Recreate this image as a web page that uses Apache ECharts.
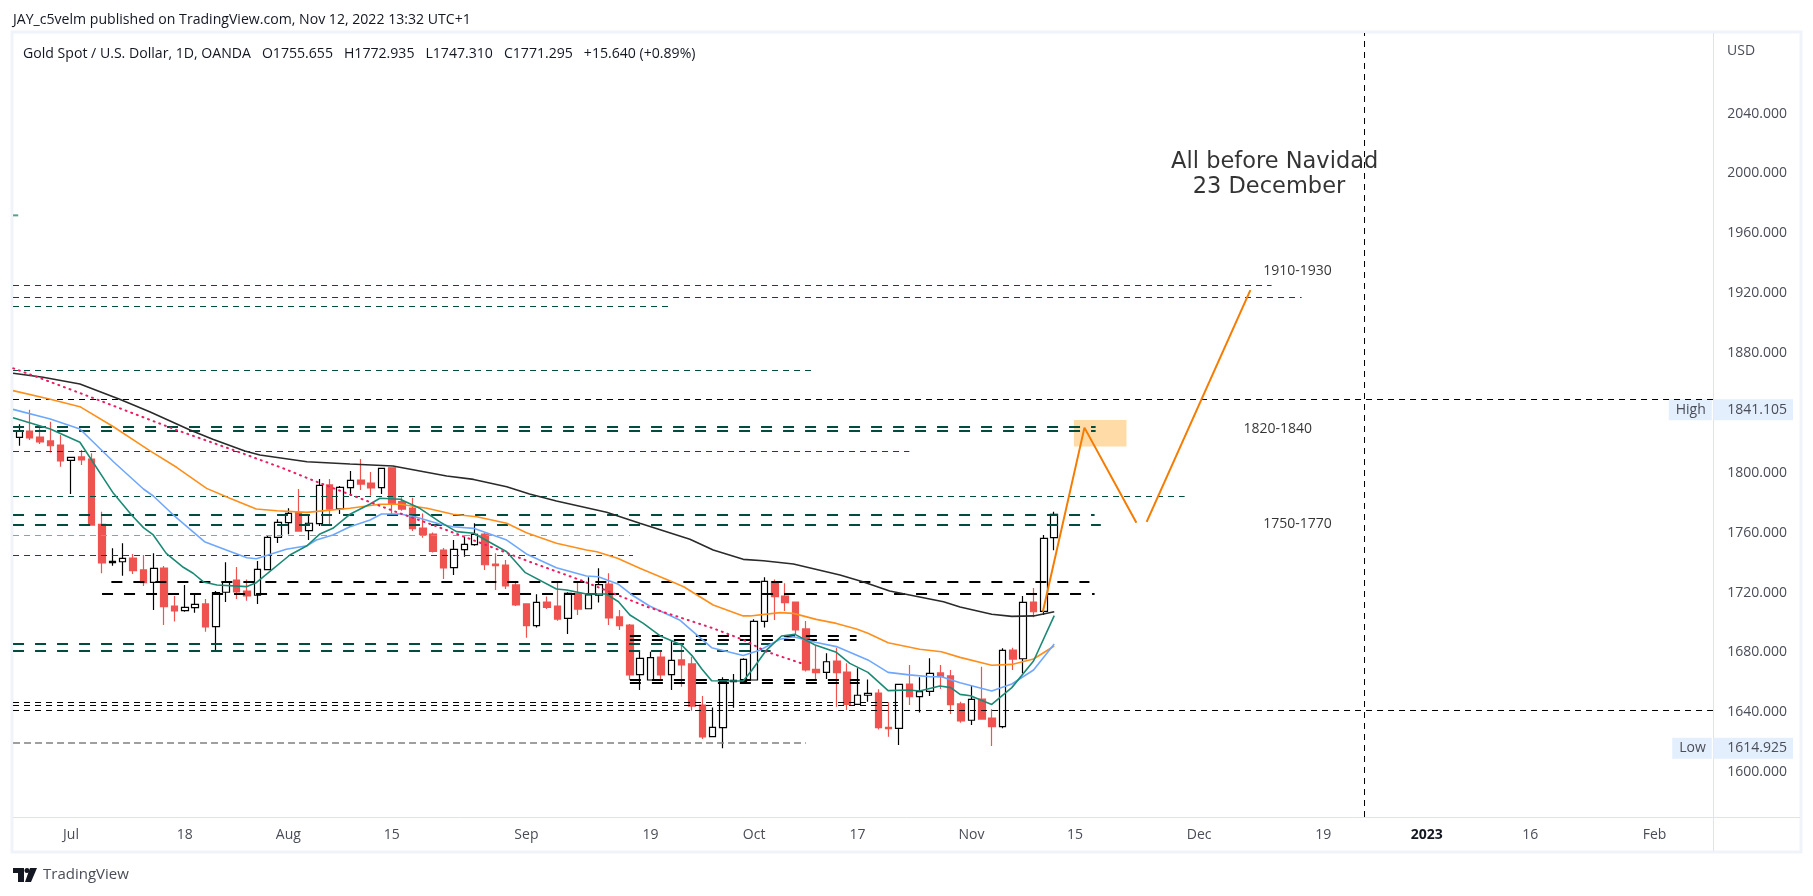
<!DOCTYPE html>
<html><head><meta charset="utf-8">
<style>html,body{margin:0;padding:0;background:#fff}#c{width:1813px;height:896px}</style>
<script src="https://cdn.jsdelivr.net/npm/echarts@6/dist/echarts.min.js"></script>
</head><body><div id="c"></div>
<script>
// Candles: bar 0 = 24 Jun 2022 … bar 100 = 11 Nov 2022 (trading-day slots)
const opens=[1822.7,1826.9,1822.9,1820.3,1817.6,1807.3,1809.6,1808.2,1764.6,1739,1739.6,1742.1,1734.1,1725.8,1735.4,1710,1706.9,1708.9,1711.4,1696.2,1719.2,1727.4,1720,1717.2,1734.3,1755.9,1765.7,1772.4,1760.4,1765,1790.9,1775,1789.1,1794.2,1792.2,1789.1,1802.4,1779.7,1775.5,1762.1,1758.1,1747.4,1735.6,1747.7,1751,1758.1,1738.1,1737.4,1724.1,1711.4,1696.9,1712.7,1710,1701.8,1718.5,1708.2,1717.2,1724.7,1702.7,1697.3,1664.2,1660.6,1675.9,1664.2,1674,1671.3,1643.9,1622.7,1628.8,1659.5,1659.5,1660.6,1699.8,1726.3,1716.7,1712.7,1694.7,1667.7,1665.7,1673.3,1665.9,1644.3,1650.4,1651.9,1629,1628.3,1657.9,1649.5,1653,1665.3,1663.3,1644.6,1633.7,1647.9,1635.2,1629.4,1680.6,1674.8,1712.7,1706.5,1755.655];
const closes=[1826.9,1822.3,1819.6,1817.1,1806.9,1809.3,1807.6,1764.1,1738.8,1739.9,1741.9,1733.6,1725.6,1735.2,1709.6,1706.7,1709.1,1711.1,1696,1718.9,1726.3,1719.4,1716.7,1734.5,1755.9,1765.9,1771.9,1760.1,1765.3,1790.6,1774.8,1789.3,1794,1791.5,1788.9,1802,1778.2,1774.8,1761.7,1757.7,1746.5,1735.4,1747.9,1751.2,1757.9,1737.6,1737,1723.4,1710.7,1696.9,1712.5,1709.1,1701.3,1718.5,1708,1717.4,1724.3,1702,1696.9,1664,1675.1,1675.5,1664,1673.7,1670.6,1643.2,1622.5,1629,1659.5,1660.4,1674.4,1699.8,1726.5,1716.3,1712.3,1694,1667.3,1665.5,1672.8,1665.5,1644.3,1650.4,1651.7,1628.8,1628.1,1657.7,1649.5,1652.8,1665,1662.8,1644.1,1633.2,1647.7,1634.5,1629.4,1680.4,1674.6,1712.5,1706.2,1755.2,1771.295];
const lows=[1817.1,1820.9,1818.2,1812.5,1803.1,1784.8,1804.2,1764.1,1731.9,1737,1730.3,1731.4,1723.4,1707.4,1697.3,1699.6,1706.2,1705.6,1692.9,1680.2,1712.7,1714.7,1713.6,1711.4,1734.1,1752.1,1757.9,1760.1,1754.1,1763.5,1764.6,1771.5,1783.7,1787.5,1783.7,1784.8,1771.5,1773.7,1760.1,1755.7,1745.7,1728.1,1730.7,1743,1750.3,1734.1,1720.7,1721.4,1710,1688.9,1695.6,1708,1700.2,1691.3,1704,1708.2,1712.3,1697.3,1694,1660.6,1653.9,1660.6,1660.6,1653.9,1656.1,1640.1,1621.2,1622.7,1614.925,1642.1,1657.9,1660.6,1695.6,1700.7,1706.7,1691.3,1666.2,1661.3,1661.3,1642.8,1640.6,1643.9,1646.1,1627.6,1622.7,1617.2,1643.9,1638.8,1649.9,1654.6,1637.9,1632.1,1630.5,1634.5,1616.5,1628.3,1667.3,1665,1702.5,1704,1747.31];
const highs=[1831.4,1841.1,1829.8,1833.2,1824.3,1809.3,1814.2,1812,1773,1748.6,1751.9,1744.8,1744.1,1745.2,1736.7,1716.7,1724.1,1717.8,1714.7,1720,1739.2,1736.1,1727.8,1740.1,1756.8,1767.9,1775.3,1788.2,1770.8,1794.9,1794.9,1790.2,1800.2,1808.2,1799.5,1802.4,1802.4,1782.6,1782.4,1771.9,1759.2,1748.8,1754.1,1756.3,1765.3,1759,1745.2,1740.8,1725.6,1711.4,1717.8,1716.3,1725.6,1719.2,1726.3,1729.2,1735.2,1731.9,1707.4,1698,1680.6,1679.5,1679.5,1687.3,1685.1,1676.2,1649.9,1642.3,1662.4,1664.6,1675.1,1701.1,1729.2,1727.8,1725.2,1712.7,1700,1683.3,1678.4,1682.2,1671.7,1668.4,1661,1654.4,1645.7,1657.7,1670.6,1662.4,1675.1,1670.6,1667.3,1646.1,1656.8,1669.5,1641,1681.8,1682.2,1716.7,1722,1757.5,1772.935];

// Moving averages as [bar, price]
const maBlack=[[-0.6,1865.5],[2.3,1862.8],[5.86,1858.3],[9.7,1848.1],[12.6,1839.8],[16.5,1827.6],[18.7,1821.4],[21.8,1813.6],[23.25,1810.9],[27.8,1806.4],[31.95,1804.9],[36.1,1803.6],[41.3,1796.9],[43.9,1794.6],[47.1,1789.7],[49.3,1784.8],[51.9,1780.2],[56.75,1772.6],[59.96,1765.3],[64.8,1754.6],[67.05,1747.4],[69.95,1741.2],[71.9,1740.3],[74.8,1738.1],[79.3,1730.7],[81.5,1726.3],[84.1,1720.1],[89.3,1712.9],[90.9,1709.4],[93.96,1704.5],[95.9,1703.1],[98,1703.4],[100,1706.2]];
const maOrange=[[-0.6,1853.9],[3,1848.1],[5.86,1843.2],[9.1,1829.8],[12.6,1813.8],[15.2,1802.7],[18.1,1788.6],[20.35,1782],[22.9,1774.8],[24.9,1773.7],[27.8,1772.6],[31.95,1775.3],[34.85,1778],[36.8,1778],[39.4,1775.3],[41.9,1771.3],[44.2,1769.7],[47.1,1765.3],[49,1759],[51.9,1751.9],[54.8,1747.4],[55.8,1746.3],[57.8,1741.9],[59.96,1735.2],[62.9,1726.7],[64.2,1722.9],[67.05,1710.7],[69.95,1703.4],[70.6,1703.4],[73.5,1705.6],[74.8,1705.1],[77,1701.1],[78.95,1698.4],[80.9,1694.7],[82,1691.8],[83.95,1685.5],[87,1681.1],[89.1,1679.5],[90.9,1675.7],[93.96,1670.4],[95.9,1671],[98,1674.6],[100,1683.3]];
const maBlue=[[-0.6,1841.4],[3,1835],[5.86,1828.3],[9.1,1806.4],[12,1788.2],[12.95,1783.5],[14.9,1770.8],[17.9,1753],[20,1747.4],[22,1742.3],[22.9,1741.6],[25.8,1747.9],[27.8,1750.3],[28.7,1754.1],[30.3,1757.5],[31.95,1763],[33.9,1767.5],[35,1771.5],[36.8,1771.5],[38.4,1769.3],[40.6,1764.8],[41.9,1763],[43.9,1761.9],[47.1,1754.1],[49,1744.8],[51.9,1735.6],[54.8,1730.1],[55.95,1729.6],[57.9,1724.5],[59.2,1717.4],[60.9,1710],[63.8,1700.7],[65.1,1692.9],[66.9,1682.2],[69.95,1676.9],[71.6,1680.6],[73.5,1687.8],[74.8,1689.5],[76.9,1685.8],[78.95,1682.9],[82,1674],[83.95,1665.7],[86,1664],[88,1662.8],[89.1,1662.8],[90.9,1658.8],[93.96,1653.2],[95.9,1657.9],[98,1667.3],[100,1684.6]];
const maTeal=[[-0.6,1835.8],[3,1828.3],[5.86,1819.4],[9.1,1785.3],[10.85,1770.8],[12,1762.4],[12.95,1757.5],[14.2,1745.2],[15.85,1735.9],[16.8,1731.9],[17.8,1726.1],[19.1,1724.1],[22,1723],[22.9,1725.6],[26.15,1744.1],[27.8,1750.3],[29,1757.9],[30.3,1761.9],[31.95,1771.3],[33.9,1778.2],[34.85,1782],[36.8,1781.3],[38.7,1775.3],[40.6,1766.4],[42.25,1759.7],[43.9,1758.6],[47.1,1746.3],[48.9,1732.3],[51.9,1721.4],[52.9,1720.7],[54.8,1718],[56.75,1718],[57.9,1712.9],[59,1704],[60.3,1698.4],[61.9,1690.2],[64,1684],[65,1676.9],[65.95,1668],[66.9,1660.1],[69.95,1659.9],[70.8,1667.3],[72.2,1680.6],[73.65,1690],[74.95,1691.1],[76.9,1684],[78.95,1679.1],[80.25,1671.7],[82,1665.7],[83.95,1653.5],[86,1653.9],[87,1653.2],[88.95,1656.6],[90,1655.5],[90.9,1651],[91.9,1650.1],[93.96,1644.3],[95.9,1655.5],[98,1673.3],[100,1703.6]];
const dottedTrend=[[-0.58,1868.8],[2.16,1861.9],[4.9,1854.8],[7.63,1847.7],[11,1838.7],[15.2,1827.6],[20.7,1814.2],[25.5,1802],[28.7,1793.1],[32.9,1782],[36.8,1771.9],[40,1764.1],[46.4,1747.4],[49.3,1739.6],[54.2,1727.4],[57.4,1718.5],[60.6,1709.6],[63.8,1702.5],[67.06,1695.1],[70,1687.3],[72.2,1679.5],[75.6,1671.7]];

// Horizontal levels: [price, first bar, last bar]
const thinGreenLevels=[[1924.14,-0.6,121],[1916.12,-0.6,123.9],[1910.11,-0.6,62.7],[1867.35,-0.6,76.5],[1813.24,-0.6,86],[1783.18,-0.6,112.6],[1743.76,-0.6,59.3]];
const fadedGreenLevels=[[1757.13,-0.6,59]];
const greyLevels=[[1618.51,-0.6,76]];
const thickGreenLevels=[[1829.61,-0.6,104],[1826.94,-0.6,104],[1770.82,-0.6,103.9],[1764.14,-0.6,104.5],[1684.64,-0.6,72.6],[1679.97,-0.6,72.6]];
const thinBlackLevels=[[1847.98,-0.6,163.65],[1640.22,-0.6,163.65],[1645.56,-0.6,84.9],[1643.56,-0.6,84.9]];
const thickBlackLevels=[[1726.06,8.9,103.4],[1718.05,8,103.9],[1689.99,59,80.9],[1687.32,59,80.9],[1660.59,59,81.2],[1658.59,59,81.2]];
const smallMark=[[1971,-0.6,-0.1]];
const verticalBar=129.98;

// Drawn forecast
const forecastUp=[[98.9,1706.2],[102.92,1829.2],[107.94,1765.7]];
const forecastUp2=[[108.93,1766.2],[118.95,1921.1]];
const zone=[[101.9,1834.3],[106.98,1816.5]];
const notes=[['1910-1930',123.5,1933.8],['1820-1840',121.6,1828.3],['1750-1770',123.5,1764.8]];
const bigNotes=[['All before Navidad',121.3,2006.3],['23 December',120.75,1990]];

// Axes
const priceTicks=[2040,2000,1960,1920,1880,1800,1760,1720,1680,1640,1600];
const highValue=1841.105, lowValue=1614.925;
const timeTickBars=[5,16,26,36,49,61,71,81,92,102,114,126,136,146,158];
const timeTickLabels=['Jul','18','Aug','15','Sep','19','Oct','17','Nov','15','Dec','19','2023','16','Feb'];

const FONT='"Open Sans",sans-serif';
const TXT='#131722', AXT='#4a4d57';
const chart=echarts.init(document.getElementById('c'),null,{renderer:'canvas'});

function levelSeries(levels,color,width,dash,z,opacity){
  return levels.map(l=>({type:'line',data:[[l[1],l[0]],[l[2],l[0]]],symbol:'none',silent:true,z:z,
    lineStyle:{color:color,width:width,type:dash,opacity:opacity==null?1:opacity}}));
}
function maSeries(pts,color,width){
  return {type:'line',data:pts,symbol:'none',silent:true,z:6,lineStyle:{color:color,width:width}};
}
const candleData=opens.map((o,i)=>[i,o,closes[i],lows[i],highs[i]]);
const yMax=1920+258.7/1.4969, yMin=1600-46.3/1.4969;

const option={
  animation:false,
  backgroundColor:'#fff',
  grid:{left:13,top:33,width:1700,height:784,containLabel:false},
  xAxis:{type:'value',min:-0.604,max:163.65,splitLine:{show:false},axisTick:{show:false},
    axisLine:{show:false},
    axisLabel:{customValues:timeTickBars,margin:11,fontFamily:FONT,fontSize:14,color:AXT,hideOverlap:false,
      formatter:v=>{const l=timeTickLabels[timeTickBars.indexOf(v)];return l==='2023'?'{b|2023}':l;},
      rich:{b:{fontFamily:FONT,fontSize:14,fontWeight:'bold',color:TXT}}}},
  yAxis:{type:'value',position:'right',min:yMin,max:yMax,scale:true,splitLine:{show:false},axisTick:{show:false},
    axisLine:{show:false},
    axisLabel:{customValues:priceTicks.concat([highValue,lowValue]),margin:80,align:'right',hideOverlap:false,
      fontFamily:FONT,fontSize:14,color:AXT,
      formatter:v=>{
        const s=v.toFixed(3);
        if(v===highValue) return '{tag|High}{gap|}{val|'+s+'}';
        if(v===lowValue) return '{tag|Low}{gap|}{val|'+s+'}';
        return '{p|'+s+'}';
      },
      rich:{
        p:{fontFamily:FONT,fontSize:14,color:AXT,padding:[3,6,0,0]},
        gap:{width:1.5,height:21},
        tag:{fontFamily:FONT,fontSize:14,color:AXT,backgroundColor:'#e3effd',height:21,lineHeight:21,padding:[0,6,0,7],align:'right'},
        val:{fontFamily:FONT,fontSize:14,color:AXT,backgroundColor:'#e3effd',height:21,lineHeight:21,padding:[0,6,0,14]}
      }}},
  series:[
    {type:'line',data:[],symbol:'none',silent:true,z:1,
      markArea:{silent:true,itemStyle:{color:'#ffdba8'},
        data:[[{xAxis:zone[0][0],yAxis:zone[0][1]},{xAxis:zone[1][0],yAxis:zone[1][1]}]]}},
    {type:'candlestick',data:candleData,barWidth:7,silent:true,z:2,
      itemStyle:{color:'#ffffff',color0:'#ef5350',borderColor:'#000000',borderColor0:'#ef5350',borderColorDoji:'#000000',borderWidth:1.2}},
    ...levelSeries(thinGreenLevels,'#004d40',1,[6,5],5),
    ...levelSeries(fadedGreenLevels,'#7fa79f',1,[6,5],5),
    ...levelSeries(greyLevels,'#808080',1.6,[7,4],5),
    ...levelSeries(smallMark,'#5a9e8c',2,'solid',5),
    ...levelSeries(thickGreenLevels,'#004d40',2,[11,11],5),
    ...levelSeries(thinBlackLevels,'#000000',1,[6,5],5),
    ...levelSeries(thickBlackLevels,'#000000',2,[11,11],5),
    {type:'line',data:[[verticalBar,yMin],[verticalBar,yMax]],symbol:'none',silent:true,z:5,
      lineStyle:{color:'#000',width:1,type:[6,5]}},
    maSeries(maBlack,'#2a2a2a',1.6),
    maSeries(maOrange,'#ff8f1a',1.6),
    maSeries(maBlue,'#6ea8fe',1.6),
    maSeries(maTeal,'#1b8a75',1.6),
    {type:'line',data:dottedTrend,symbol:'none',silent:true,z:6,
      lineStyle:{color:'#e91e63',width:2,type:[1,5],cap:'round'}},
    {type:'line',data:forecastUp,symbol:'none',silent:true,z:7,lineStyle:{color:'#f57c00',width:2}},
    {type:'line',data:forecastUp2,symbol:'none',silent:true,z:7,lineStyle:{color:'#f57c00',width:2}},
    {type:'scatter',symbolSize:0,silent:true,z:8,
      data:notes.map(n=>({name:n[0],value:[n[1],n[2]]})),
      label:{show:true,position:'inside',formatter:'{b}',fontFamily:FONT,fontSize:14,color:'#000'}},
    {type:'scatter',symbolSize:0,silent:true,z:8,
      data:bigNotes.map(n=>({name:n[0],value:[n[1],n[2]]})),
      label:{show:true,position:'inside',formatter:'{b}',fontFamily:'"DejaVu Sans",sans-serif',fontSize:22.5,color:'#000'}}
  ],
  graphic:[
    {type:'rect',silent:true,z:-1,shape:{x:12,y:32,width:1789,height:820},style:{fill:'none',stroke:'#f0f3fa',lineWidth:3}},
    {type:'line',silent:true,shape:{x1:13,y1:817.5,x2:1800,y2:817.5},style:{stroke:'#e0e3eb',lineWidth:1}},
    {type:'line',silent:true,shape:{x1:1713.5,y1:33,x2:1713.5,y2:851},style:{stroke:'#e0e3eb',lineWidth:1}},
    {type:'text',silent:true,style:{x:13,y:20,text:'JAY_c5velm published on TradingView.com, Nov 12, 2022 13:32 UTC+1',font:'14.1px "Open Sans"',fill:TXT,verticalAlign:'middle'}},
    {type:'text',silent:true,style:{x:23,y:54,text:'Gold Spot / U.S. Dollar, 1D, OANDA   O1755.655   H1772.935   L1747.310   C1771.295   +15.640 (+0.89%)',font:'14.1px "Open Sans"',fill:TXT,verticalAlign:'middle'}},
    {type:'text',silent:true,style:{x:1727,y:51,text:'USD',font:'14px "Open Sans"',fill:AXT,verticalAlign:'middle'}},
    {type:'text',silent:true,style:{x:43,y:875,text:'TradingView',font:'15px "Open Sans"',fill:'#4a4d57',verticalAlign:'middle'}},
    {type:'polygon',silent:true,shape:{points:[[13,868],[24,868],[24,882],[18,882],[18,873],[13,873]]},style:{fill:'#131722'}},
    {type:'circle',silent:true,shape:{cx:27,cy:870.5,r:2.5},style:{fill:'#131722'}},
    {type:'polygon',silent:true,shape:{points:[[30,868],[37,868],[31,882],[25,882]]},style:{fill:'#131722'}}
  ]
};
chart.setOption(option);
</script></body></html>
